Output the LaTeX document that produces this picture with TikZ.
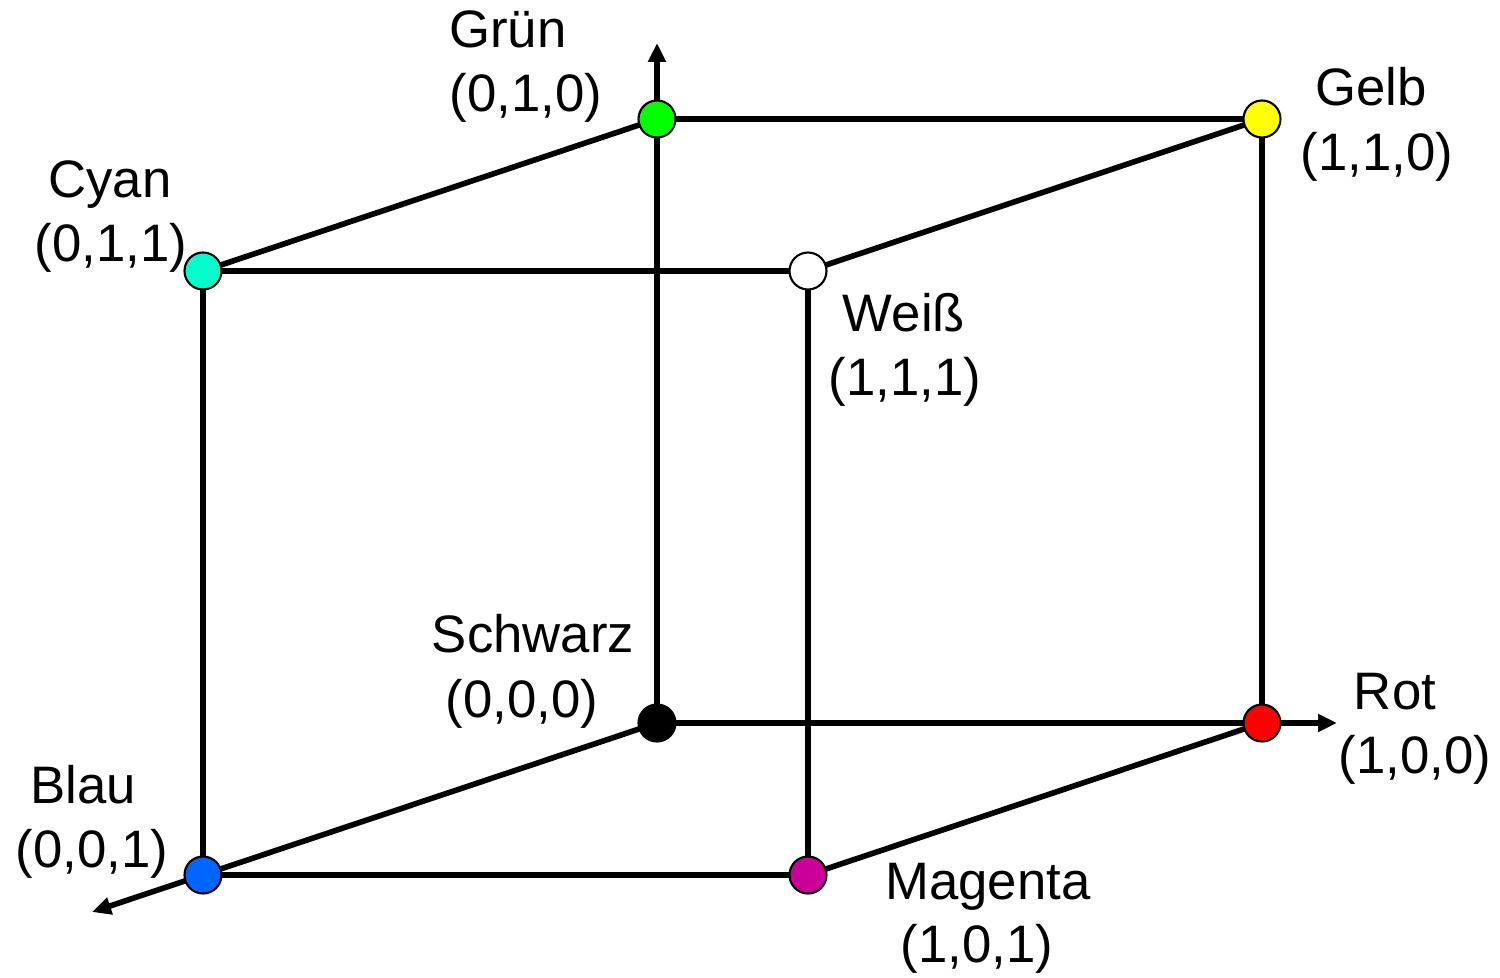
\documentclass[tikz,border=0pt]{standalone}
\usepackage{fontspec}
\setmainfont{Liberation Sans}
\usetikzlibrary{arrows.meta}
\pgfdeclarelayer{background}
\pgfsetlayers{background,main}

\definecolor{cgreen}{HTML}{00FF00}
\definecolor{cyellow}{HTML}{FFFF00}
\definecolor{cred}{HTML}{FF0000}
\definecolor{cblue}{HTML}{0066FF}
\definecolor{cmagenta}{HTML}{CC0099}
\definecolor{ccyan}{HTML}{00FFCC}

\begin{document}
\begin{tikzpicture}[>={Triangle[length=0.19cm,width=0.17cm]}]

        % Styles
        \tikzset{
          corner/.style={circle,draw,line width=0.6pt,minimum size=0.37cm,
                         inner sep=0pt},
          edge/.style={line width=1.6pt},
          lbl/.style={anchor=base,inner sep=0pt,
                      font=\fontsize{15}{18}\selectfont}
        }

        \useasboundingbox (0,0) rectangle (15,9.78);

        % x- and y-coordinates of the back face
        \def\xa{6.57}    % x = 0
        \def\xb{12.62}   % x = 1
        \def\ya{2.55}    % y = 0
        \def\yb{8.59}    % y = 1
        % shift of the front face (z = 1)
        \def\dx{-4.54}
        \def\dy{-1.52}

        %-------------------------------
        % Corners of the cube
        %-------------------------------
        \node[corner,fill=black]    (schwarz) at (\xa,\ya) {};
        \node[corner,fill=cred]     (rot)     at (\xb,\ya) {};
        \node[corner,fill=cgreen]   (gruen)   at (\xa,\yb) {};
        \node[corner,fill=cyellow]  (gelb)    at (\xb,\yb) {};

        \node[corner,fill=cblue]    (blau)    at (\xa+\dx,\ya+\dy) {};
        \node[corner,fill=cmagenta] (magenta) at (\xb+\dx,\ya+\dy) {};
        \node[corner,fill=ccyan]    (cyan)    at (\xa+\dx,\yb+\dy) {};
        \node[corner,fill=white]    (weiss)   at (\xb+\dx,\yb+\dy) {};

        % Ends of the axes
        \coordinate (rtip) at (13.37,\ya);
        \coordinate (gtip) at (\xa,9.35);
        \coordinate (btip) at (0.92,0.66);

        %-------------------------------
        % Axes and edges (behind the corners)
        %-------------------------------
        \begin{pgfonlayer}{background}
          \draw[edge,->] (schwarz.center) -- (rtip);
          \draw[edge,->] (schwarz.center) -- (gtip);
          \draw[edge,->] (schwarz.center) -- (btip);

          \draw[edge] (rot.center)   -- (gelb.center);
          \draw[edge] (rot.center)   -- (magenta.center);
          \draw[edge] (gruen.center) -- (gelb.center);
          \draw[edge] (gruen.center) -- (cyan.center);
          \draw[edge] (blau.center)  -- (cyan.center);
          \draw[edge] (blau.center)  -- (magenta.center);
          \draw[edge] (weiss.center) -- (gelb.center);
          \draw[edge] (weiss.center) -- (cyan.center);
          \draw[edge] (weiss.center) -- (magenta.center);
        \end{pgfonlayer}

        %-------------------------------
        % Names and RGB values
        %-------------------------------
        \node[lbl] (gruen-name)   at (5.08,9.30)  {Grün};
        \node[lbl] (gruen-rgb)    at (5.26,8.66)  {(0,1,0)};
        \node[lbl] (gelb-name)    at (13.71,8.72) {Gelb};
        \node[lbl] (gelb-rgb)     at (13.77,8.07) {(1,1,0)};
        \node[lbl] (cyan-name)    at (1.10,7.80)  {Cyan};
        \node[lbl] (cyan-rgb)     at (1.11,7.16)  {(0,1,1)};
        \node[lbl] (weiss-name)   at (9.04,6.46)  {Weiß};
        \node[lbl] (weiss-rgb)    at (9.05,5.82)  {(1,1,1)};
        \node[lbl] (schwarz-name) at (5.33,3.25)  {Schwarz};
        \node[lbl] (schwarz-rgb)  at (5.22,2.60)  {(0,0,0)};
        \node[lbl] (rot-name)     at (13.95,2.68) {Rot};
        \node[lbl] (rot-rgb)      at (14.15,2.04) {(1,0,0)};
        \node[lbl] (blau-name)    at (0.83,1.74)  {Blau};
        \node[lbl] (blau-rgb)     at (0.92,1.10)  {(0,0,1)};
        \node[lbl] (magenta-name) at (9.88,0.78)  {Magenta};
        \node[lbl] (magenta-rgb)  at (9.77,0.15)  {(1,0,1)};

\end{tikzpicture}
\end{document}
